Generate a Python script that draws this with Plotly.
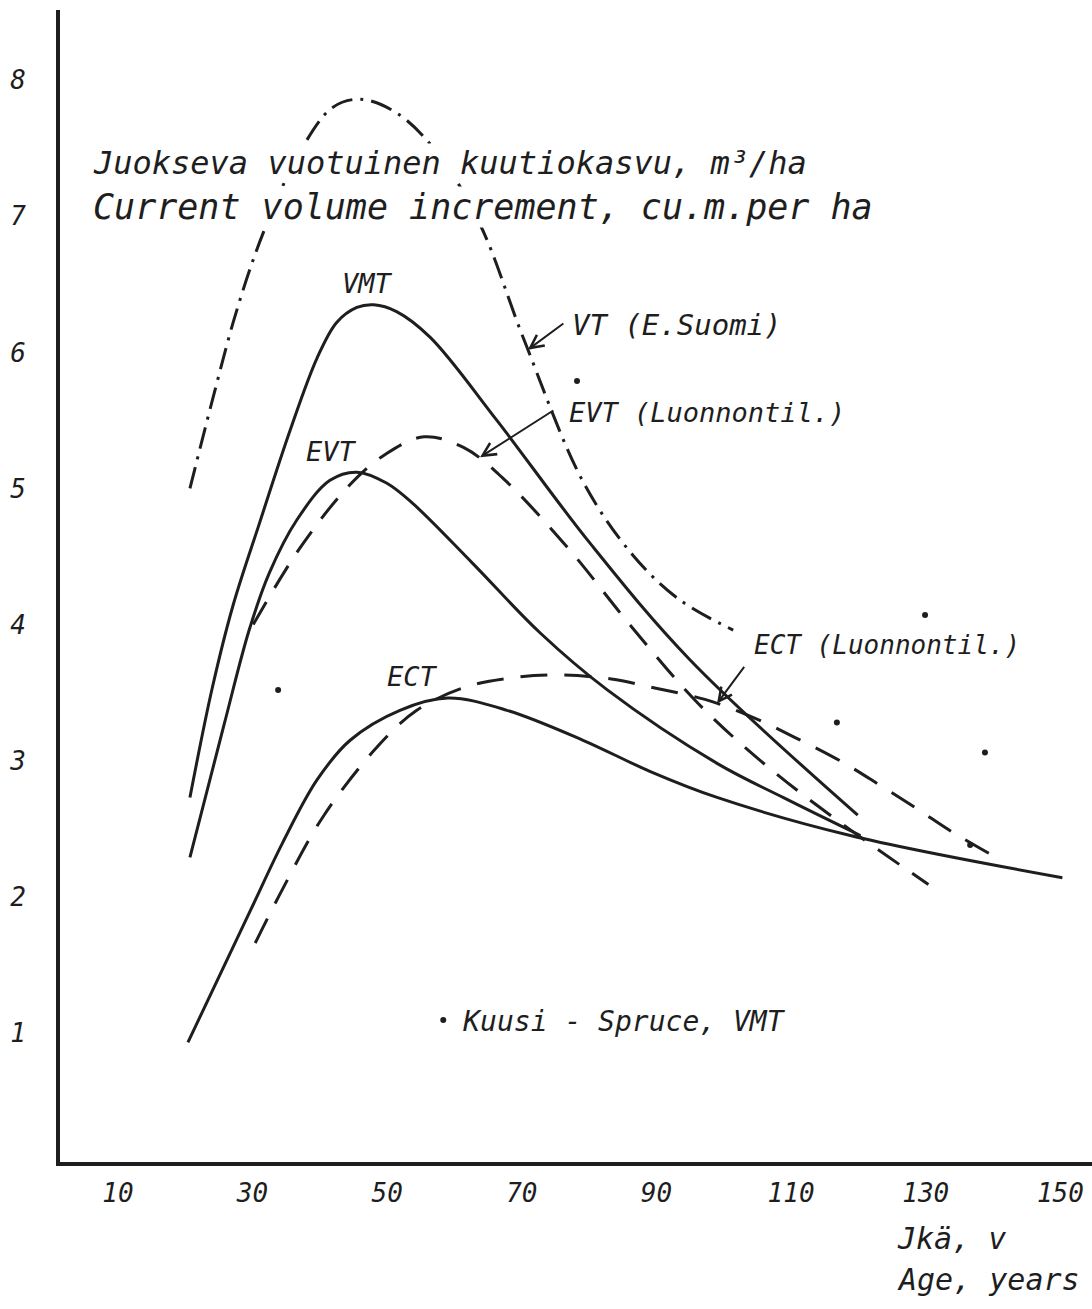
import plotly.graph_objects as go

# ---------------- data (age in years, current volume increment m3/ha) ----------------
vmt_age = [20.7, 24.0, 27.1, 31.0, 35.6, 39.6, 42.5, 45.5, 48.0, 51.4, 56.4, 66.3, 80.1, 95.0, 119.9]
vmt_inc = [2.73, 3.53, 4.14, 4.74, 5.43, 5.96, 6.22, 6.33, 6.35, 6.30, 6.11, 5.50, 4.60, 3.74, 2.60]

evt_age = [20.7, 25.8, 29.5, 32.5, 36.6, 41.5, 45.5, 49.9, 53.8, 62.7, 72.7, 82.7, 99.0, 108.8, 120.3]
evt_inc = [2.29, 3.27, 3.96, 4.38, 4.77, 5.06, 5.12, 5.04, 4.89, 4.45, 3.94, 3.52, 2.98, 2.73, 2.45]

ect_age = [20.4, 29.6, 34.5, 39.6, 44.5, 51.9, 59.0, 67.8, 79.1, 89.1, 99.0, 118.8, 150.3]
ect_inc = [0.93, 1.89, 2.40, 2.86, 3.15, 3.37, 3.46, 3.37, 3.15, 2.92, 2.73, 2.45, 2.14]

evt_nat_age = [30.1, 37.0, 44.5, 49.7, 55.5, 61.4, 67.1, 76.9, 86.2, 96.2, 106.9, 118.3, 130.4]
evt_nat_inc = [4.00, 4.56, 5.03, 5.25, 5.38, 5.30, 5.08, 4.56, 3.99, 3.42, 2.94, 2.51, 2.09]

ect_nat_age = [30.4, 34.5, 40.5, 48.5, 54.4, 61.6, 68.7, 75.8, 83.3, 90.1, 97.2, 103.8, 110.6,
               117.6, 123.5, 128.9, 133.8, 141.5]
ect_nat_inc = [1.66, 2.06, 2.59, 3.10, 3.37, 3.54, 3.61, 3.63, 3.60, 3.53, 3.45, 3.33, 3.17,
               2.99, 2.81, 2.64, 2.48, 2.26]

vt_age = [20.7, 24.2, 27.6, 31.6, 37.0, 41.9, 46.0, 51.4, 57.4, 63.8, 70.2, 79.1, 86.5, 93.5, 101.4]
vt_inc = [5.00, 5.68, 6.30, 6.88, 7.47, 7.80, 7.86, 7.76, 7.47, 6.94, 6.11, 5.05, 4.51, 4.18, 3.96]

spruce_age = [33.8, 78.2, 116.8, 129.9, 138.8, 136.6]
spruce_inc = [3.52, 5.79, 3.28, 4.07, 3.06, 2.38]

x_ticks = [10, 30, 50, 70, 90, 110, 130, 150]
y_ticks = [1, 2, 3, 4, 5, 6, 7, 8]

INK = "#1e1e1e"
FONT = "DejaVu Sans Mono"


def hand(size):
    return dict(family=FONT, size=size, color=INK, style="italic")


fig = go.Figure()


def add_curve(x, y, dash):
    fig.add_trace(go.Scatter(
        x=x, y=y, mode="lines", showlegend=False, hoverinfo="skip",
        line=dict(color=INK, width=3, dash=dash, shape="spline", smoothing=1.0),
    ))


add_curve(vmt_age, vmt_inc, "solid")
add_curve(evt_age, evt_inc, "solid")
add_curve(ect_age, ect_inc, "solid")
add_curve(evt_nat_age, evt_nat_inc, "26px,16px")
add_curve(ect_nat_age, ect_nat_inc, "27px,17px")
add_curve(vt_age, vt_inc, "22px,8px,3px,8px")

fig.add_trace(go.Scatter(
    x=spruce_age, y=spruce_inc, mode="markers", name="Kuusi - Spruce, VMT",
    marker=dict(size=6, color=INK), showlegend=True, hoverinfo="skip",
))

annotations = []

# Titles (white background hides the curve where the lettering crosses it)
annotations.append(dict(xref="paper", yref="paper", x=0.031, y=0.867, xanchor="left", yanchor="middle",
                        text="Juokseva vuotuinen kuutiokasvu, m³/ha", showarrow=False,
                        font=hand(32), bgcolor="white", borderpad=0))
annotations.append(dict(xref="paper", yref="paper", x=0.031, y=0.829, xanchor="left", yanchor="middle",
                        text="Current volume increment, cu.m.per ha", showarrow=False,
                        font=hand(35), bgcolor="white", borderpad=0))

# Curve labels
for txt, x, y, anchor, size in [
    ("VMT", 47.15, 6.51, "center", 27),
    ("EVT", 41.8, 5.27, "center", 27),
    ("ECT", 53.7, 3.62, "center", 27),
    ("VT (E.Suomi)", 77.2, 6.20, "left", 29),
    ("EVT (Luonnontil.)", 76.7, 5.56, "left", 27),
    ("ECT (Luonnontil.)", 104.2, 3.85, "left", 26),
]:
    annotations.append(dict(x=x, y=y, xref="x", yref="y", text=txt, showarrow=False,
                            xanchor=anchor, yanchor="middle", font=hand(size)))

# Pointer arrows (head at x,y ; tail at ax,ay)
for hx, hy, tx, ty in [
    (70.9, 6.02, 76.4, 6.22),
    (63.8, 5.23, 74.9, 5.58),
    (99.0, 3.42, 103.2, 3.70),
]:
    annotations.append(dict(x=hx, y=hy, ax=tx, ay=ty, xref="x", yref="y", axref="x", ayref="y",
                            text="", showarrow=True, arrowhead=5, arrowsize=1.3, arrowwidth=2,
                            arrowcolor=INK))

# Axis title (lower right)
annotations.append(dict(xref="paper", yref="paper", x=0.809, y=-0.066, xanchor="left", yanchor="middle",
                        text="Jkä, v", showarrow=False, font=hand(30)))
annotations.append(dict(xref="paper", yref="paper", x=0.809, y=-0.102, xanchor="left", yanchor="middle",
                        text="Age, years", showarrow=False, font=hand(30)))

fig.update_layout(
    width=1092, height=1309,
    margin=dict(l=60, r=0, t=10, b=147, autoexpand=False),
    paper_bgcolor="white", plot_bgcolor="white",
    annotations=annotations,
    legend=dict(x=0.352, y=0.123, xanchor="left", yanchor="middle", font=hand(28),
                bgcolor="rgba(0,0,0,0)", itemwidth=30),
    xaxis=dict(range=[1.4, 154.7], tickvals=x_ticks, ticktext=[str(v) for v in x_ticks],
               showline=True, linewidth=4, linecolor=INK, showgrid=False, zeroline=False,
               ticks="", tickfont=hand(26), ticklabelstandoff=5, automargin=False),
    yaxis=dict(range=[0.051, 8.516], tickvals=y_ticks, ticktext=[str(v) for v in y_ticks],
               showline=True, linewidth=4, linecolor=INK, showgrid=False, zeroline=False,
               ticks="", tickfont=hand(26), ticklabelstandoff=25, automargin=False),
)

fig.write_html("out.html", config={"displayModeBar": False},
               post_script="document.body.style.margin='0';document.body.style.padding='0';")
